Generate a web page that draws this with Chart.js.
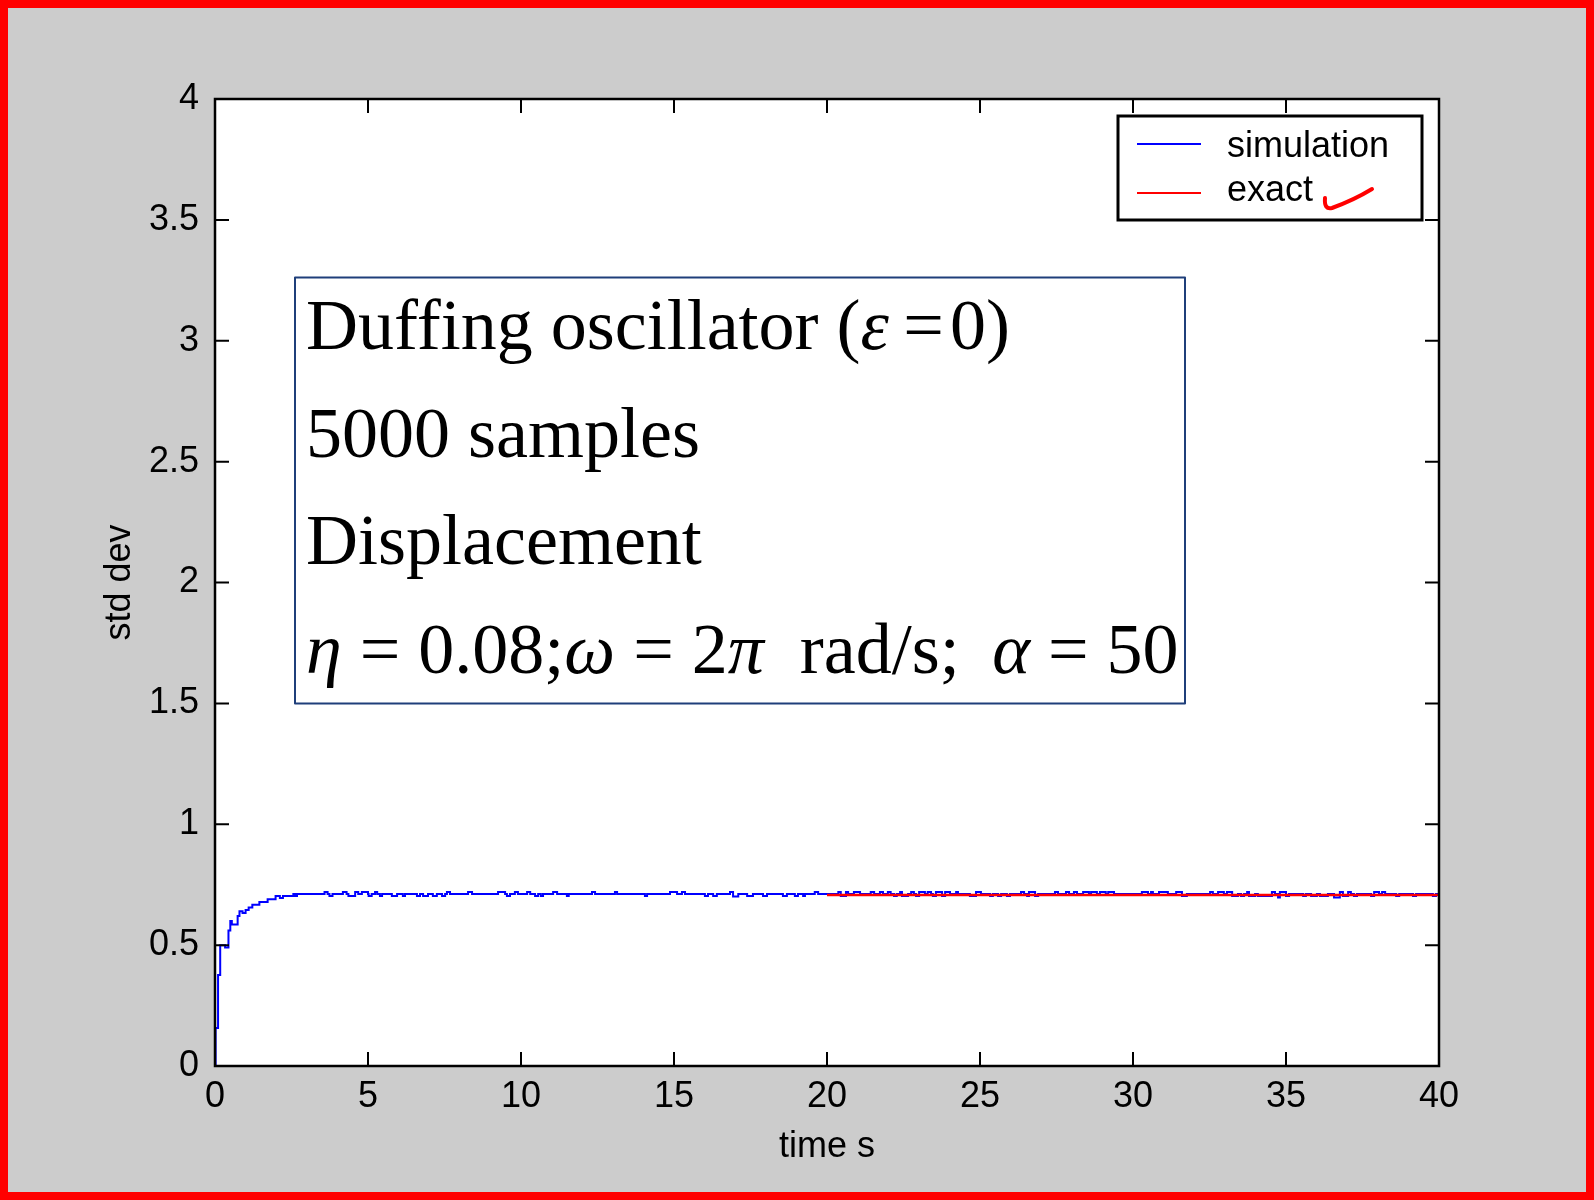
<!DOCTYPE html>
<html>
<head>
<meta charset="utf-8">
<title>Duffing oscillator std dev</title>
<script src="https://cdn.jsdelivr.net/npm/chart.js@4.4.1/dist/chart.umd.min.js"></script>
<style>
  body { margin: 0; background: #cccccc; }
  canvas { display: block; }
</style>
</head>
<body>
<canvas id="canvas" width="1594" height="1200"></canvas>
<script>
// simulated std dev (stairs)
var simTime = [
  0, 0.02, 0.1, 0.17, 0.33, 0.44, 0.5, 0.55, 0.74, 0.8, 0.9,
  1.0, 1.1, 1.22, 1.45, 1.72, 1.98, 2.12, 2.22, 2.56, 2.62, 2.68,
  3.58, 3.68, 3.74, 3.84, 4.18, 4.3, 4.36, 4.58, 4.68,
  4.8, 5.0, 5.02, 5.12, 5.23, 5.3, 5.39, 5.46,
  5.78, 5.95, 6.14, 6.21, 6.6, 6.7, 6.8, 6.96,
  7.12, 7.25, 7.42, 7.52, 7.58, 7.68,
  8.27, 8.4, 9.25, 9.48, 9.54, 9.64, 9.8, 9.9,
  10.2, 10.3, 10.46, 10.56, 10.65, 10.72, 11.05, 11.18,
  11.5, 11.56, 12.32, 12.42, 13.07, 13.14, 14.05, 14.12,
  14.87, 15.1, 15.26, 15.36, 16.01, 16.11, 16.28, 16.4,
  16.83, 16.93, 17.1, 17.39, 17.58, 17.91, 18.04,
  18.56, 18.69, 18.95, 19.05, 19.22, 19.28, 19.6, 19.71,
  20.37, 20.45, 20.62, 20.69, 20.88, 21.08,
  21.43, 21.54, 21.73, 21.83, 21.99, 22.08, 22.19, 22.28,
  22.39, 22.45, 22.65, 22.75, 22.84, 22.91, 23.01, 23.2,
  23.29, 23.4, 23.46, 23.56, 23.76, 23.86, 24.02,
  24.22, 24.28, 24.67, 24.87, 25.03,
  25.33, 25.42, 25.59, 25.69, 25.88, 25.98,
  26.34, 26.44, 26.54, 26.6, 26.8, 26.9,
  27.45, 27.55, 27.81, 27.91, 28.07, 28.17,
  28.37, 28.56, 28.63, 28.82, 28.92, 29.11, 29.19, 29.38,
  30.29, 30.49, 30.59, 30.65, 30.85, 31.14,
  31.41, 31.6, 31.76,
  32.52, 32.61, 32.78, 32.97, 33.07, 33.24, 33.43,
  33.53, 33.63, 33.73, 33.79, 33.99,
  34.08, 34.54, 34.64, 34.74, 34.8, 35.0, 35.1,
  35.56, 35.65, 35.82, 36.01, 36.11, 36.37,
  36.57, 36.76, 36.86, 37.03, 37.12,
  37.22, 37.32, 37.78, 37.88, 38.04, 38.14, 38.24,
  38.6, 38.7, 39.15, 39.25, 39.8, 39.9, 40
];
var simStd = [
  0, 0.157, 0.376, 0.5, 0.49, 0.56, 0.6, 0.585, 0.62, 0.64, 0.633,
  0.645, 0.656, 0.667, 0.678, 0.69, 0.703, 0.695, 0.703, 0.711, 0.703, 0.711,
  0.72, 0.711, 0.703, 0.711, 0.72, 0.711, 0.703, 0.72, 0.711,
  0.72, 0.711, 0.703, 0.711, 0.72, 0.711, 0.703, 0.711,
  0.703, 0.711, 0.703, 0.711, 0.703, 0.711, 0.703, 0.711,
  0.703, 0.711, 0.703, 0.711, 0.72, 0.711,
  0.72, 0.711, 0.72, 0.711, 0.703, 0.711, 0.72, 0.711,
  0.72, 0.711, 0.703, 0.711, 0.703, 0.711, 0.72, 0.711,
  0.703, 0.711, 0.72, 0.711, 0.72, 0.711, 0.703, 0.711,
  0.72, 0.711, 0.72, 0.711, 0.703, 0.711, 0.703, 0.711,
  0.72, 0.701, 0.711, 0.703, 0.711, 0.703, 0.711,
  0.703, 0.711, 0.703, 0.711, 0.703, 0.711, 0.72, 0.711,
  0.72, 0.703, 0.72, 0.711, 0.72, 0.711,
  0.72, 0.711, 0.72, 0.711, 0.72, 0.711, 0.703, 0.711,
  0.72, 0.703, 0.711, 0.72, 0.711, 0.703, 0.72, 0.711,
  0.72, 0.711, 0.703, 0.72, 0.703, 0.72, 0.711,
  0.72, 0.711, 0.703, 0.72, 0.711,
  0.703, 0.711, 0.703, 0.711, 0.703, 0.711,
  0.72, 0.711, 0.703, 0.72, 0.703, 0.711,
  0.72, 0.711, 0.72, 0.711, 0.72, 0.711,
  0.72, 0.711, 0.72, 0.711, 0.72, 0.711, 0.72, 0.711,
  0.72, 0.711, 0.72, 0.711, 0.72, 0.711,
  0.72, 0.703, 0.711,
  0.72, 0.711, 0.72, 0.711, 0.72, 0.703, 0.711,
  0.703, 0.711, 0.72, 0.703, 0.711,
  0.703, 0.72, 0.711, 0.697, 0.72, 0.703, 0.711,
  0.703, 0.711, 0.703, 0.711, 0.703, 0.711,
  0.697, 0.72, 0.703, 0.72, 0.711,
  0.703, 0.711, 0.703, 0.72, 0.711, 0.72, 0.711,
  0.703, 0.711, 0.703, 0.711, 0.703, 0.711, 0.711
];
// exact stationary value
var exactTime = [20, 40];
var exactStd = [0.7071, 0.7071];

var xTicks = [0, 5, 10, 15, 20, 25, 30, 35, 40];
var yTicks = [0, 0.5, 1, 1.5, 2, 2.5, 3, 3.5, 4];

var noteLines = [
  [["Duffing oscillator (", 0], ["\u03b5", 1], ["\u2009=\u200a0)", 0]],
  [["5000 samples", 0]],
  [["Displacement", 0]],
  [["\u03b7", 1], [" = 0.08;", 0], ["\u03c9", 1], [" = 2", 0], ["\u03c0", 1],
   ["  rad/s;\u2009 ", 0], ["\u03b1", 1], [" = 50", 0]]
];

var tickFont = "'Liberation Sans Narrow', 'Liberation Sans', Arial, sans-serif";
var labelFont = "'Liberation Sans', Arial, sans-serif";
var serifFont = "'Liberation Serif', 'Times New Roman', serif";

function toPoints(xs, ys) {
  return xs.map(function (x, i) { return { x: x, y: ys[i] }; });
}

function drawRuns(ctx, runs, x, y, size) {
  runs.forEach(function (r) {
    ctx.font = (r[1] ? 'italic ' : '') + size + 'px ' + serifFont;
    ctx.fillText(r[0], x, y);
    x += ctx.measureText(r[0]).width;
  });
}

var frame = {
  id: 'frame',
  beforeDraw: function (chart) {
    var ctx = chart.ctx, a = chart.chartArea;
    ctx.save();
    ctx.fillStyle = '#cccccc';
    ctx.fillRect(0, 0, chart.width, chart.height);
    ctx.strokeStyle = '#ff0000';
    ctx.lineWidth = 8;
    ctx.strokeRect(4, 4, chart.width - 8, chart.height - 8);
    ctx.fillStyle = '#ffffff';
    ctx.fillRect(a.left, a.top, a.right - a.left, a.bottom - a.top);
    ctx.restore();
  },
  afterDraw: function (chart) {
    var ctx = chart.ctx, a = chart.chartArea;
    var xs = chart.scales.x, ys = chart.scales.y;
    ctx.save();

    // box + inward ticks on all sides
    ctx.strokeStyle = '#000';
    ctx.lineWidth = 2.5;
    ctx.strokeRect(a.left, a.top, a.right - a.left, a.bottom - a.top);
    ctx.lineWidth = 2;
    ctx.beginPath();
    xs.ticks.forEach(function (t) {
      var px = xs.getPixelForValue(t.value);
      ctx.moveTo(px, a.bottom); ctx.lineTo(px, a.bottom - 14);
      ctx.moveTo(px, a.top); ctx.lineTo(px, a.top + 14);
    });
    ys.ticks.forEach(function (t) {
      var py = ys.getPixelForValue(t.value);
      ctx.moveTo(a.left, py); ctx.lineTo(a.left + 14, py);
      ctx.moveTo(a.right, py); ctx.lineTo(a.right - 14, py);
    });
    ctx.stroke();

    // legend box
    var lx = 1118, ly = 116, lw = 304, lh = 104;
    ctx.fillStyle = '#fff';
    ctx.fillRect(lx, ly, lw, lh);
    ctx.lineWidth = 3;
    ctx.strokeRect(lx, ly, lw, lh);
    ctx.font = '36px ' + labelFont;
    ctx.textBaseline = 'alphabetic';
    chart.data.datasets.forEach(function (ds, i) {
      var yy = ly + 28 + i * 49;
      ctx.strokeStyle = ds.borderColor;
      ctx.lineWidth = 2;
      ctx.beginPath();
      ctx.moveTo(lx + 19, yy); ctx.lineTo(lx + 83, yy);
      ctx.stroke();
      ctx.fillStyle = '#000';
      ctx.fillText(ds.label, lx + 109, yy + 13 - i * 5);
    });
    // hand-drawn tick next to "exact"
    ctx.strokeStyle = '#ff0000';
    ctx.lineWidth = 4;
    ctx.lineCap = 'round';
    ctx.lineJoin = 'round';
    ctx.beginPath();
    ctx.moveTo(lx + 207, ly + 82);
    ctx.quadraticCurveTo(lx + 206, ly + 94, lx + 214, ly + 92);
    ctx.quadraticCurveTo(lx + 236, ly + 84, lx + 254, ly + 73);
    ctx.stroke();

    // annotation box
    ctx.strokeStyle = '#1f3f7a';
    ctx.lineWidth = 2;
    ctx.lineCap = 'butt';
    ctx.strokeRect(295, 277.5, 890, 426);
    ctx.fillStyle = '#000';
    var baselines = [349, 457, 564, 673];
    noteLines.forEach(function (runs, i) {
      drawRuns(ctx, runs, 306, baselines[i], 72);
    });
    ctx.restore();
  }
};

var config = {
  type: 'line',
  data: {
    datasets: [{
      label: 'simulation',
      data: toPoints(simTime, simStd),
      borderColor: '#0000ff',
      borderWidth: 2,
      stepped: true,
      pointRadius: 0,
      fill: false,
      order: 1
    }, {
      label: 'exact',
      data: toPoints(exactTime, exactStd),
      borderColor: '#ff0000',
      borderWidth: 2.5,
      pointRadius: 0,
      fill: false,
      order: 0
    }]
  },
  options: {
    responsive: false,
    animation: false,
    layout: { padding: { top: 99, right: 155, bottom: 0, left: 0 } },
    plugins: {
      legend: { display: false },
      tooltip: { enabled: false }
    },
    scales: {
      x: {
        type: 'linear',
        min: 0,
        max: 40,
        afterFit: function (s) { s.height = 134; },
        afterBuildTicks: function (s) { s.ticks = xTicks.map(function (v) { return { value: v }; }); },
        grid: { display: false, drawTicks: false },
        border: { display: false },
        ticks: {
          autoSkip: false, maxRotation: 0, padding: 9, color: '#000',
          font: { family: tickFont, size: 36 },
          callback: function (v) { return String(v); }
        },
        title: {
          display: true, text: 'time s', color: '#000',
          font: { family: labelFont, size: 36 },
          padding: { top: 0, bottom: 31 }
        }
      },
      y: {
        type: 'linear',
        min: 0,
        max: 4,
        afterFit: function (s) { s.width = 215; },
        afterBuildTicks: function (s) { s.ticks = yTicks.map(function (v) { return { value: v }; }); },
        grid: { display: false, drawTicks: false },
        border: { display: false },
        ticks: {
          autoSkip: false, padding: 16, color: '#000',
          font: { family: tickFont, size: 36 },
          callback: function (v) { return String(v); }
        },
        title: {
          display: true, text: 'std dev', color: '#000',
          font: { family: labelFont, size: 36 },
          padding: { top: 98, bottom: 0 }
        }
      }
    }
  },
  plugins: [frame]
};

window.onload = function () {
  window.myChart = new Chart(document.getElementById('canvas'), config);
};
</script>
</body>
</html>
